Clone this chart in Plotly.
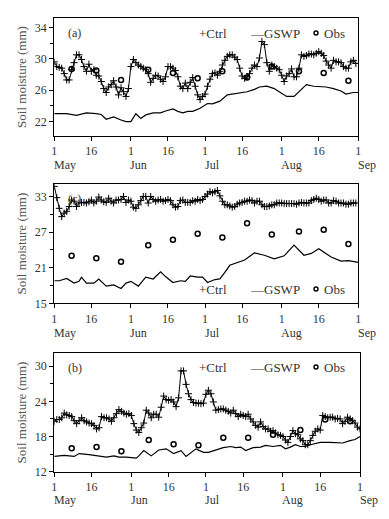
import pandas as pd
import plotly.graph_objects as go

BASE = pd.Timestamp("2000-05-01")

# ---------------- data ----------------
obs_days = [7, 17, 27, 38, 48, 58, 68, 78, 88, 99, 109, 119]

# panel (a)
a_ctrl = [29.6, 29.0, 28.9, 28.8, 28.1, 27.3, 27.3, 28.6, 29.5, 30.5,
          30.5, 29.9, 29.0, 28.4, 29.3, 28.4, 28.6, 27.9, 27.8, 27.1,
          26.2, 25.7, 26.4, 26.7, 27.2, 26.4, 25.4, 26.3, 25.8, 25.2,
          26.2, 29.0, 29.9, 29.5, 29.2, 29.0, 28.8, 28.6, 28.1, 27.0,
          27.5, 27.9, 27.8, 27.4, 27.1, 27.7, 29.0, 29.0, 28.8, 28.5,
          27.7, 26.5, 26.2, 26.9, 26.2, 27.0, 27.6, 26.5, 25.4, 24.8,
          25.2, 25.5, 26.5, 27.4, 28.1, 28.2, 27.9, 28.4, 29.2, 29.8,
          30.3, 30.5, 30.5, 30.2, 29.9, 28.8, 27.8, 27.5, 27.7, 28.1,
          28.8, 29.2, 29.0, 30.1, 32.2, 31.8, 29.5, 28.4, 29.2, 29.0,
          28.8, 28.6, 27.9, 27.1, 27.8, 28.1, 28.7, 27.7, 27.7, 28.8,
          30.5, 30.3, 30.4, 30.6, 30.6, 30.5, 30.7, 30.9, 30.7, 30.4,
          29.7, 29.2, 28.8, 29.8, 29.6, 29.6, 29.5, 29.0, 28.8, 28.8,
          29.6, 29.8, 29.4]
a_gswp_day = [0, 5, 9, 13, 17, 19, 21, 24, 27, 29, 31, 33, 35, 37, 40, 43, 45, 48, 50, 52,
              54, 56, 59, 62, 64, 67, 70, 72, 75, 78, 81, 83, 86, 89, 91, 94, 97, 99, 102, 105,
              108, 110, 113, 116, 118, 121, 123]
a_gswp = [23.0, 23.0, 22.8, 23.1, 23.0, 22.9, 22.3, 22.6, 22.2, 22.0,
          22.0, 23.0, 22.4, 22.85, 23.1, 23.1, 23.35, 23.6, 23.3, 23.1,
          23.3, 23.3, 23.7, 24.3, 24.25, 24.6, 25.4, 25.5, 25.7, 25.8,
          26.1, 26.4, 26.5, 26.2, 25.8, 25.2, 25.2, 25.8, 26.7, 26.5,
          26.4, 26.4, 26.2, 25.9, 25.5, 25.7, 25.7]
a_obs = [28.7, 28.5, 27.3, 28.6, 28.2, 27.5, 28.4, 27.6, 29.0, 28.4, 28.2, 27.2]

# panel (c)
c_ctrl = [34.7, 32.8, 31.0, 29.6, 30.2, 30.5, 31.3, 32.4, 32.2,
          31.3, 31.9, 32.0, 32.0, 31.9, 32.1, 32.4, 31.9, 32.2, 32.9,
          32.4, 32.1, 32.0, 32.7, 32.2, 31.9, 32.4, 32.4, 32.5, 33.0,
          32.0, 32.4, 32.2, 31.2, 31.0, 31.6, 32.3, 33.0, 33.0, 31.9,
          33.0, 32.5, 32.2, 32.4, 32.5, 32.2, 32.3, 32.5, 32.3, 31.6,
          31.2, 31.3, 32.3, 32.4, 32.0, 32.0, 32.0, 32.3, 32.2, 32.5,
          32.3, 32.5, 33.0, 33.4, 33.8, 33.6, 33.8, 34.0, 33.1, 32.2,
          31.6, 31.6, 31.4, 31.2, 31.3, 31.7, 31.9, 32.0, 32.2, 32.2,
          32.4, 32.3, 31.9, 32.2, 32.2, 31.6, 31.3, 31.3, 31.4, 31.6,
          31.6, 31.9, 31.9, 31.9, 31.8, 31.8, 31.8, 31.8, 31.8, 31.7,
          31.9, 32.0, 31.9, 31.9, 31.9, 32.3, 32.5, 32.7, 32.5, 32.2,
          32.4, 32.4, 31.9, 31.9, 32.3, 32.2, 31.9, 31.9, 31.9, 31.7,
          31.7, 31.9, 31.9, 31.9]
c_gswp_day = [0, 2, 5, 8, 10, 11, 13, 16, 18, 21, 24, 27, 29, 31, 34, 37, 40, 43, 45, 48,
              51, 53, 55, 58, 60, 62, 65, 67, 69, 71, 77, 81, 85, 89, 93, 97, 101, 104, 107, 112,
              116, 119, 123]
c_gswp = [18.8, 18.8, 19.2, 18.4, 18.7, 19.4, 18.4, 18.4, 19.1, 17.9,
          18.1, 17.5, 18.4, 18.7, 17.9, 19.4, 19.1, 20.3, 19.5, 18.5,
          18.8, 18.7, 19.6, 19.4, 19.4, 18.5, 19.0, 19.1, 20.2, 21.4,
          22.3, 23.5, 23.1, 22.5, 23.0, 24.8, 23.1, 23.4, 24.2, 22.8,
          22.1, 22.2, 21.9]
c_obs = [23.0, 22.6, 22.0, 24.8, 25.7, 26.7, 26.1, 28.5, 26.6, 27.1, 27.4, 25.0]

# panel (b)
b_ctrl = [20.6, 20.9, 20.9, 21.2, 22.0, 21.7, 21.6, 21.4, 20.7, 20.2,
          20.7, 21.2, 20.7, 20.5, 20.3, 20.2, 19.9, 19.3, 19.5, 21.4,
          21.2, 21.2, 21.0, 20.6, 21.2, 21.9, 22.6, 22.3, 22.0, 21.8,
          21.9, 21.6, 20.2, 19.1, 18.7, 19.5, 20.3, 22.5, 22.0, 21.2,
          21.8, 21.8, 21.3, 23.0, 24.9, 24.3, 24.2, 24.3, 23.9, 23.1,
          24.6, 29.2, 29.2, 26.9, 25.3, 24.3, 23.8, 23.7, 23.7, 23.6,
          23.7, 25.2, 25.9, 25.3, 23.9, 22.5, 22.6, 22.7, 22.7, 22.5,
          22.3, 22.0, 22.5, 21.9, 21.4, 21.8, 21.6, 21.4, 21.8, 21.0,
          20.5, 19.9, 19.6, 20.5, 19.7, 19.3, 19.3, 18.9, 19.0, 18.6,
          18.3, 18.2, 18.0, 17.4, 17.0, 18.0, 19.0, 18.5, 18.3, 17.6,
          17.3, 16.6, 16.6, 17.3, 18.2, 18.9, 19.3, 19.1, 21.6, 21.4,
          21.2, 21.3, 21.3, 21.0, 21.1, 21.0, 20.2, 20.6, 21.3,
          21.0, 20.7, 20.3, 19.6, 19.3]
b_gswp_day = [0, 4, 8, 10, 14, 18, 21, 24, 26, 29, 33, 34, 36, 39, 42, 45, 48, 51, 53, 57,
              60, 62, 65, 68, 71, 73, 75, 77, 80, 83, 85, 88, 91, 93, 95, 97, 99, 101, 103, 107,
              111, 115, 116, 119, 121, 123]
b_gswp = [14.6, 14.8, 14.6, 15.1, 14.9, 14.7, 14.5, 14.7, 14.5, 14.5,
          14.3, 14.7, 15.6, 14.7, 15.7, 15.9, 15.1, 15.6, 14.6, 15.9,
          15.3, 15.3, 15.7, 16.1, 16.3, 16.1, 16.2, 15.6, 16.1, 16.2,
          16.5, 16.3, 16.5, 15.9, 16.2, 16.6, 16.3, 16.3, 16.6, 17.0,
          17.0, 17.0, 16.9, 17.3, 17.5, 18.0]
b_obs = [16.0, 16.2, 15.5, 17.4, 16.7, 16.5, 17.8, 17.8, 18.3, 19.1, 20.9, 20.6]

tick_dates = ["2000-05-01", "2000-05-16", "2000-06-01", "2000-06-16", "2000-07-01",
              "2000-07-16", "2000-08-01", "2000-08-16", "2000-09-01"]
tick_text = ["1", "16", "1", "16", "1", "16", "1", "16", "1"]
month_dates = ["2000-05-01", "2000-06-01", "2000-07-01", "2000-08-01", "2000-09-01"]
month_text = ["May", "Jun", "Jul", "Aug", "Sep"]


def to_dates(days):
    return [BASE + pd.Timedelta(days=int(d)) for d in days]


FONT = "Liberation Serif"
TXT = "#333"
OFF = 8                      # page body margin
W, H = 373, 503
ML, MR, MT, MB = 46, 21, 10, 39
PW, PH = W - ML - MR, H - MT - MB


def py(p):  # reference pixel y -> paper y
    return (H - MB - (p - OFF)) / PH


def pxp(p):  # reference pixel x -> paper x
    return ((p - OFF) - ML) / PW


panels = [
    ("a", a_ctrl, a_gswp_day, a_gswp, a_obs, [20.2, 35.15], 4, 22, (18.3, 135.7), 358.3, "(a)", 33, 164.5),
    ("c", c_ctrl, c_gswp_day, c_gswp, c_obs, [15, 35.1], 6, 15, (184.0, 303.3), 358.3, "(c)", 289, 333),
    ("b", b_ctrl, b_gswp_day, b_gswp, b_obs, [12, 32.2], 6, 12, (353.3, 471.7), 360.0, "(b)", 367, 499.5),
]

fig = go.Figure()
annotations = []
shapes = []

for i, (name, ctrl, gday, gsw, obs, yr, dt, t0, (top, bot), xr, lab, ly, my) in enumerate(panels):
    sfx = "" if i == 0 else str(i + 1)
    xa, ya = "x" + sfx, "y" + sfx
    ctrl_days = list(range(len(ctrl)))
    fig.add_trace(go.Scatter(x=to_dates(gday), y=gsw, mode="lines",
                             line=dict(color="black", width=1.2), xaxis=xa, yaxis=ya,
                             showlegend=False, hoverinfo="skip"))
    fig.add_trace(go.Scatter(x=to_dates(ctrl_days), y=ctrl, mode="lines+markers",
                             line=dict(color="black", width=1),
                             marker=dict(symbol="cross-thin", size=5, line=dict(color="black", width=1)),
                             xaxis=xa, yaxis=ya, showlegend=False, hoverinfo="skip"))
    fig.add_trace(go.Scatter(x=to_dates(obs_days), y=obs, mode="markers",
                             marker=dict(symbol="circle-open", size=5, color="black",
                                         line=dict(color="black", width=1.5)),
                             xaxis=xa, yaxis=ya, showlegend=False, hoverinfo="skip"))

    xdom = [max(0.0, pxp(54.3)), min(1.0, pxp(xr))]
    ydom = [max(0.0, py(bot)), min(1.0, py(top))]
    common = dict(showline=True, linecolor="black", linewidth=1.3, mirror=True,
                  ticks="outside", ticklen=4, tickcolor="black", tickwidth=1,
                  showgrid=False, zeroline=False, automargin=False,
                  tickfont=dict(family=FONT, size=12, color=TXT))
    fig.layout["xaxis" + sfx] = dict(common, type="date", domain=xdom, anchor=ya,
                                     range=["2000-05-01", "2000-09-01"],
                                     tickvals=tick_dates, ticktext=tick_text)
    fig.layout["yaxis" + sfx] = dict(common, domain=ydom, anchor=xa, range=yr,
                                     tick0=t0, dtick=dt,
                                     minor=dict(dtick=dt / 2, tick0=t0, ticks="outside",
                                                ticklen=3, tickcolor="black", tickwidth=1),
                                     title=dict(text="Soil moisture (mm)", standoff=5,
                                                font=dict(family=FONT, size=13, color="#555")))

    xd, yd = xa + " domain", ya + " domain"
    width_px = xr - 54.3
    height_px = bot - top

    def fx(p):
        return (p - 54.3) / width_px

    # month names below the day numbers
    for md, mt in zip(month_dates, month_text):
        annotations.append(dict(text=mt, xref=xa, yref=yd, x=md, y=(bot - my) / height_px,
                                xanchor="left", yanchor="middle", xshift=-2.5, showarrow=False,
                                font=dict(family=FONT, size=12, color=TXT)))

    lab_y = (bot - (top + 15)) / height_px
    annotations.append(dict(text=lab, xref=xd, yref=yd, x=fx(66), y=lab_y,
                            xanchor="left", yanchor="middle", showarrow=False,
                            font=dict(family=FONT, size=12, color=TXT)))
    ly_d = (bot - ly) / height_px
    annotations.append(dict(text="+Ctrl", xref=xd, yref=yd, x=fx(197), y=ly_d,
                            xanchor="left", yanchor="middle", showarrow=False,
                            font=dict(family=FONT, size=13, color=TXT)))
    annotations.append(dict(text="—GSWP", xref=xd, yref=yd, x=fx(248), y=ly_d,
                            xanchor="left", yanchor="middle", showarrow=False,
                            font=dict(family=FONT, size=13, color=TXT)))
    annotations.append(dict(text="Obs", xref=xd, yref=yd, x=fx(322), y=ly_d,
                            xanchor="left", yanchor="middle", showarrow=False,
                            font=dict(family=FONT, size=13, color=TXT)))
    shapes.append(dict(type="circle", xref=xd, yref=yd, xsizemode="pixel", ysizemode="pixel",
                       xanchor=fx(316), yanchor=ly_d, x0=-2, x1=2, y0=-2, y1=2,
                       line=dict(color="black", width=1.4)))

fig.update_layout(width=W, height=H, margin=dict(l=ML, r=MR, t=MT, b=MB),
                  paper_bgcolor="white", plot_bgcolor="white",
                  annotations=annotations, shapes=shapes,
                  font=dict(family=FONT))
fig.write_html("out.html")
